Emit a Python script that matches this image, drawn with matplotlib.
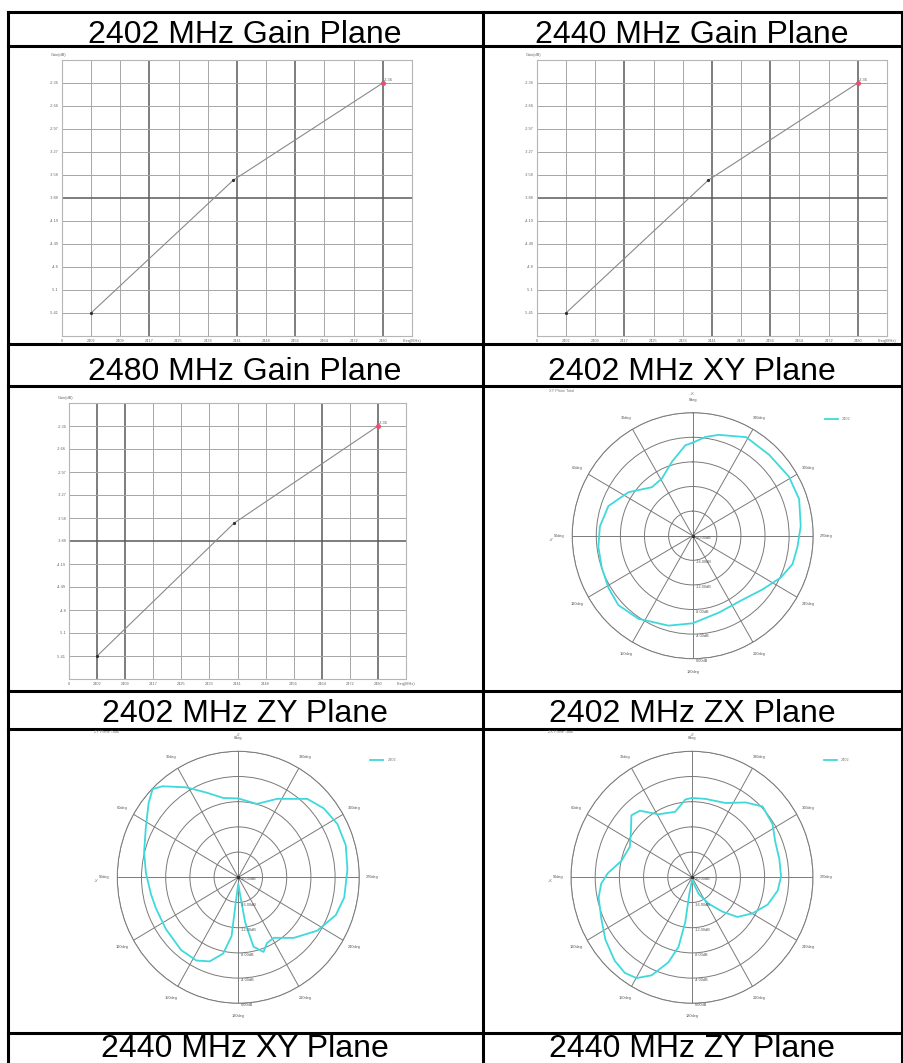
import numpy as np
import matplotlib
matplotlib.use('Agg')
import matplotlib.pyplot as plt
from matplotlib.lines import Line2D

plt.rcParams['font.family'] = ['Liberation Sans', 'DejaVu Sans']

# ---------------- data ----------------
titles = ["2402 MHz Gain Plane", "2440 MHz Gain Plane",
          "2480 MHz Gain Plane", "2402 MHz XY Plane",
          "2402 MHz ZY Plane", "2402 MHz ZX Plane",
          "2440 MHz XY Plane", "2440 MHz ZY Plane"]

freq_mhz = [2402, 2440, 2480]
gain_db = [-5.41, -3.65, -2.36]
x_tick_labels = ["0", "2402", "2409", "2417", "2425", "2433", "2441",
                 "2448", "2456", "2464", "2472", "2480", "Freq(MHz)"]
y_tick_values = [-2.36, -2.66, -2.97, -3.27, -3.58, -3.88, -4.19,
                 -4.49, -4.80, -5.10, -5.41]
y_tick_labels = ["-2.36", "-2.66", "-2.97", "-3.27", "-3.58", "-3.88",
                 "-4.19", "-4.49", "-4.8", "-5.1", "-5.41"]

xy_theta = [0, 4.7, 15.9, 28.9, 40.7, 56.5, 71, 84.4, 96.7, 108.9, 121.3,
            132.4, 146.3, 164.7, 180, 199, 218, 233, 245, 254.4, 264, 275,
            288.6, 301, 316, 331, 345.2, 352.5, 360]
xy_db = [-4.88, -5.24, -7.48, -9.4, -9.6, -7.2, -5.2, -4.52, -4.24, -4.04,
         -3.64, -3.28, -3.76, -4.84, -5.76, -6.76, -6.72, -5.48, -3.88, -2.8,
         -2.52, -2.0, -1.36, -1.36, -1.72, -1.68, -3.04, -3.8, -4.88]

zy_theta = [0, 11.2, 21.4, 31.1, 40.9, 45.3, 51.6, 62.7, 75.6, 87.5, 100.5,
            109.8, 124.5, 140.7, 152.3, 160.5, 168.3, 173.2, 174.1, 180, 186,
            189, 192.8, 199.4, 204.3, 211.3, 223.6, 237, 249.6, 259.6, 273.9,
            286, 297.3, 307.7, 317.5, 332.8, 345.3, 360]
zy_db = [-7.48, -7.16, -5.56, -3.32, -0.88, -0.08, -1.08, -2.8, -3.92, -4.72,
         -5.32, -5.52, -5.48, -5.08, -5.08, -5.84, -7.64, -10.6, -16.2, -19.0,
         -17.32, -12.8, -8.72, -7.44, -8.52, -8.76, -6.72, -4.44, -2.8, -2.2,
         -1.92, -1.52, -1.56, -2.12, -3.12, -6.0, -7.96, -7.48]

zx_theta = [0, 5.1, 15, 29.1, 39.2, 45.5, 54, 64.8, 77.4, 87.3, 93.8, 101.8,
            113.6, 124.6, 136, 143.8, 150.2, 156.8, 163.9, 168.6, 171.1,
            170.5, 180, 202.6, 213.3, 222.6, 230, 240.2, 250.9, 261.5, 270.4,
            281.3, 292.4, 302.3, 313.9, 323.2, 334.7, 349.9, 360]
zx_db = [-7.4, -7.6, -9.24, -8.56, -6.36, -5.96, -7.52, -8.64, -8.04, -6.08,
         -4.96, -4.24, -3.64, -2.6, -1.6, -1.2, -1.56, -3.08, -5.96, -8.76,
         -12.8, -17.28, -19.6, -17.12, -14.96, -12.6, -10.2, -8.48, -6.76,
         -5.68, -5.28, -5.28, -5.12, -4.24, -3.8, -5.16, -6.96, -7.36, -7.4]

ring_values = [-20, -16, -12, -8, -4, 0]
ring_labels = ["-20.00dB", "-16.00dB", "-12.00dB", "-8.00dB", "-4.00dB", "0.00dB"]
spoke_angles = [0, 30, 60, 90, 120, 150, 180, 210, 240, 270, 300, 330]
series_name = "2402"

# ---------------- figure ----------------
W, H = 904, 1063
fig = plt.figure(figsize=(W / 100, H / 100), dpi=100)


def rect(l, t, w, h):
    return [l / W, 1 - (t + h) / H, w / W, h / H]


def fx(x):
    return x / W


def fy(y):
    return 1 - y / H


# table lines
LW = 2.2
for y in [12, 46, 344, 386, 691, 729, 1033]:
    fig.add_artist(Line2D([fx(8), fx(902)], [fy(y), fy(y)], color='black', lw=LW))
for x in [8, 483, 902]:
    fig.add_artist(Line2D([fx(x), fx(x)], [fy(12), fy(1063)], color='black', lw=LW))

title_pos = [(245, 43), (692, 43), (245, 380.5), (692, 380.5),
             (245, 722), (692, 722), (245, 1057), (692, 1057)]
for txt, (x, y) in zip(titles, title_pos):
    fig.text(fx(x), fy(y), txt, ha='center', va='baseline', fontsize=23,
             color='black')

TICK_FS = 2.8
GRID_C = '#a6a6a6'
DARK_C = '#5a5a5a'


def gain_panel(l, t, w, h, dark_v, dark_h):
    ax = fig.add_axes(rect(l, t, w, h))
    step_x = (freq_mhz[-1] - freq_mhz[0]) / 10
    x_grid = [freq_mhz[0] + i * step_x for i in range(11)]
    x_lo, x_hi = freq_mhz[0] - step_x, freq_mhz[-1] + step_x
    step_y = (y_tick_values[0] - y_tick_values[-1]) / 10
    y_lo, y_hi = y_tick_values[-1] - step_y, y_tick_values[0] + step_y
    ax.set_xlim(x_lo, x_hi)
    ax.set_ylim(y_lo, y_hi)
    for i, xg in enumerate(x_grid):
        ax.axvline(xg, color=DARK_C if i in dark_v else GRID_C,
                   lw=1.1 if i in dark_v else 0.7, zorder=1)
    for i, yg in enumerate(y_tick_values):
        ax.axhline(yg, color=DARK_C if i in dark_h else GRID_C,
                   lw=1.1 if i in dark_h else 0.7, zorder=1)
    ax.plot(freq_mhz, gain_db, color='#8a8a8a', lw=0.8, zorder=3)
    ax.plot(freq_mhz[:2], gain_db[:2], 'o', ms=1.3, color='#303030', zorder=4)
    ax.plot(freq_mhz[-1], gain_db[-1], 'o', ms=2.6, color='#e8506e', zorder=5)
    ax.annotate(y_tick_labels[0], (freq_mhz[-1], gain_db[-1]), xytext=(1, 1.5),
                textcoords='offset points', fontsize=TICK_FS, color='#555')
    ax.set_xticks([x_lo] + x_grid + [x_hi])
    ax.set_xticklabels(x_tick_labels)
    ax.set_yticks(y_tick_values)
    ax.set_yticklabels(y_tick_labels)
    ax.tick_params(length=0, labelsize=TICK_FS, labelcolor='#666', pad=2)
    for s in ax.spines.values():
        s.set_color('#b5b5b5')
        s.set_linewidth(0.8)
    ax.text(-0.01, 1.01, 'Gain(dB)', transform=ax.transAxes, ha='center',
            va='bottom', fontsize=TICK_FS, color='#666')
    return ax


gain_panel(61.8, 60, 350.2, 276, dark_v=[2, 5, 7, 10], dark_h=[5])
gain_panel(536.8, 60, 350.2, 276, dark_v=[2, 5, 7, 10], dark_h=[5])
gain_panel(69, 403, 337, 276, dark_v=[0, 1, 8, 10], dark_h=[5])


def polar_panel(cx, cy, rx, ry, theta_deg, r_db, plane, top_lbl, left_lbl):
    ax = fig.add_axes(rect(cx - rx, cy - ry, 2 * rx, 2 * ry), projection='polar')
    ax.set_aspect('auto')
    ax.set_theta_zero_location('N')
    ax.set_theta_direction(1)
    ax.set_ylim(ring_values[0], ring_values[-1])
    ax.set_rgrids(ring_values[1:], labels=[''] * (len(ring_values) - 1))
    ax.set_thetagrids(spoke_angles, labels=[f"{a}deg" for a in spoke_angles])
    ax.tick_params(axis='x', labelsize=TICK_FS, labelcolor='#555', pad=-1)
    ax.grid(True, color='#7a7a7a', lw=0.7)
    ax.spines['polar'].set_color('#7a7a7a')
    ax.spines['polar'].set_linewidth(0.7)
    ax.plot(np.deg2rad(theta_deg), r_db, color='#3fd9dc', lw=1.3, zorder=3)
    for v, lab in zip(ring_values, ring_labels):
        ax.annotate(lab, (np.pi, v), xytext=(2, -1.5), textcoords='offset points',
                    fontsize=TICK_FS, color='#555', ha='left', va='center',
                    annotation_clip=False)
    ax.plot([0], [ring_values[0]], 'o', ms=1.5, color='#333')
    fig.text(fx(cx - 144), fy(cy - 145), f"{plane} Plane Total", fontsize=TICK_FS,
             color='#777', ha='left', va='center')
    fig.text(fx(cx), fy(cy - 142), top_lbl, fontsize=TICK_FS, color='#777',
             ha='center', va='center')
    fig.text(fx(cx - 144), fy(cy + 4), left_lbl, fontsize=TICK_FS, color='#777',
             ha='left', va='center')
    fig.add_artist(Line2D([fx(cx + 132), fx(cx + 145)], [fy(cy - 117)] * 2,
                          color='#3fd9dc', lw=1.3))
    fig.text(fx(cx + 149), fy(cy - 117), series_name, fontsize=TICK_FS,
             color='#777', ha='left', va='center')
    return ax


polar_panel(692.7, 535.7, 120.5, 123, xy_theta, xy_db, "XY", "+X", "+Y")
polar_panel(238.3, 877.3, 121, 126, zy_theta, zy_db, "ZY", "+Z", "+Y")
polar_panel(692, 877.3, 121, 126, zx_theta, zx_db, "ZX", "+Z", "+X")

fig.savefig('out.png', dpi=100, facecolor='white')
